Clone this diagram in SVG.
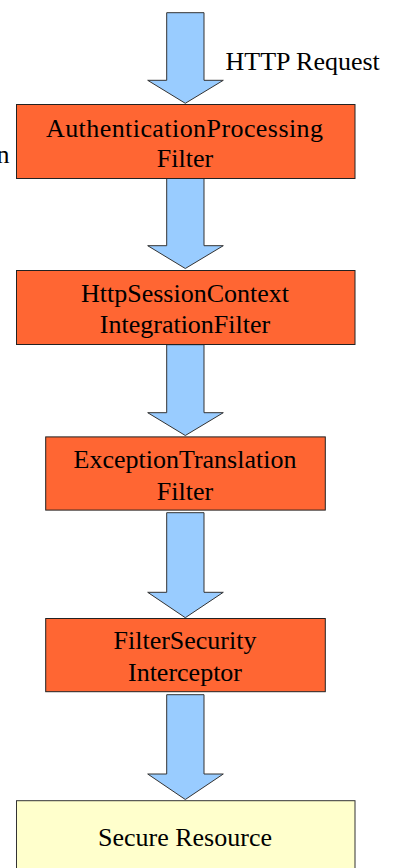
<svg xmlns="http://www.w3.org/2000/svg" width="396" height="868" viewBox="0 0 396 868">
<style>
.box{fill:#FF6633;stroke:#222;stroke-width:1}
.res{fill:#FFFFCC;stroke:#333;stroke-width:1}
.arr{fill:#99CCFF;stroke:#333;stroke-width:1;stroke-linejoin:miter}
text{font-family:"Liberation Serif","Times New Roman",serif;font-size:26px;fill:#000}
.c{text-anchor:middle}
</style>
<rect width="396" height="868" fill="#fff"/>
<g id="connectors">
<polygon class="arr" points="166.7,12.7 204,12.7 204,80.3 223.3,80.3 185.3,103.3 147.7,80.3 166.7,80.3"/>
<polygon class="arr" points="166.7,178.5 204,178.5 204,245.7 223.3,245.7 185.3,268.5 147.7,245.7 166.7,245.7"/>
<polygon class="arr" points="166.7,344.7 204,344.7 204,412.7 223.3,412.7 185.3,435.5 147.7,412.7 166.7,412.7"/>
<polygon class="arr" points="166.7,512.7 204,512.7 204,592.3 223.3,592.3 185.3,617.7 147.7,592.3 166.7,592.3"/>
<polygon class="arr" points="166.7,694.7 204,694.7 204,774 223.3,774 185.3,799.5 147.7,774 166.7,774"/>
<text x="225.5" y="70">HTTP Request</text>
<text x="9.5" y="163" text-anchor="end">n</text>
</g>
<g id="authFilter">
<rect class="box" x="16.5" y="104.5" width="338.5" height="74"/>
<text class="c" x="184.5" y="136.7" textLength="277" lengthAdjust="spacing">AuthenticationProcessing</text>
<text class="c" x="185" y="166.7">Filter</text>
</g>
<g id="sessionFilter">
<rect class="box" x="16.5" y="270.5" width="338.5" height="74"/>
<text class="c" x="185" y="301.7">HttpSessionContext</text>
<text class="c" x="185" y="333.3">IntegrationFilter</text>
</g>
<g id="exceptionFilter">
<rect class="box" x="45.7" y="436.9" width="279.6" height="73.2"/>
<text class="c" x="185" y="468.3">ExceptionTranslation</text>
<text class="c" x="185" y="500">Filter</text>
</g>
<g id="securityInterceptor">
<rect class="box" x="45.7" y="618.5" width="279.6" height="73.2"/>
<text class="c" x="185" y="649.3">FilterSecurity</text>
<text class="c" x="185" y="681">Interceptor</text>
</g>
<g id="secureResource">
<rect class="res" x="16.5" y="800.7" width="338.5" height="80"/>
<text class="c" x="185" y="846">Secure Resource</text>
</g>
</svg>
